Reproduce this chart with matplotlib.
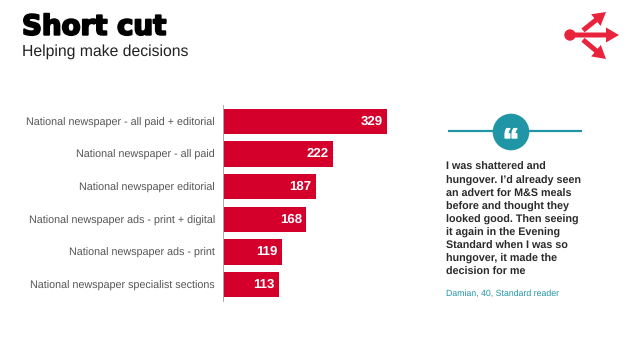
import matplotlib
matplotlib.use('Agg')
import matplotlib.pyplot as plt
import matplotlib.patheffects as pe
from matplotlib.patches import Circle, FancyArrow

W, H = 638, 359
RED = '#d4002b'
TEAL = '#1f95a5'

categories = [
    'National newspaper - all paid + editorial',
    'National newspaper - all paid',
    'National newspaper editorial',
    'National newspaper ads - print + digital',
    'National newspaper ads - print',
    'National newspaper specialist sections',
]
values = [329, 222, 187, 168, 119, 113]

quote_lines = [
    'I was shattered and',
    'hungover. I\u2019d already seen',
    'an advert for M&S meals',
    'before and thought they',
    'looked good. Then seeing',
    'it again in the Evening',
    'Standard when I was so',
    'hungover, it made the',
    'decision for me',
]
quote_source = 'Damian, 40, Standard reader'

plt.rcParams['font.family'] = ['Liberation Sans', 'DejaVu Sans']
plt.rcParams['text.hinting'] = 'no_hinting'

fig = plt.figure(figsize=(W / 100, H / 100), dpi=100)

# overlay in pixel coords for the slide furniture
bg = fig.add_axes([0, 0, 1, 1])
bg.set_xlim(0, W)
bg.set_ylim(H, 0)
bg.axis('off')

# title
bg.text(22, 27, 'Short cut', fontsize=19.9, fontweight='bold', family='DejaVu Sans', color='#000000', va='center',
        path_effects=[pe.withStroke(linewidth=1.4, foreground='#000000')])
bg.text(21.5, 52, 'Helping make decisions', fontsize=11.35, color='#222222', va='center')

# arrow icon
bg.add_patch(Circle((570, 35), 5.7, color='#e8243c', lw=0))
for dx, dy in [(49, 0), (36, -23), (36, 24)]:
    x0 = 570 if dy == 0 else 583
    y0 = 35 if dy == 0 else 35 + dy * 0.2
    bg.add_patch(FancyArrow(x0, y0, 570 + dx - x0, 35 + dy - y0, width=5, head_width=15,
                            head_length=13, length_includes_head=True, color='#e8243c', lw=0))

# quote panel
bg.plot([448, 582], [131, 131], color=TEAL, lw=1.6, solid_capstyle='butt')
bg.add_patch(Circle((511, 132), 18.3, color=TEAL, lw=0, zorder=3))
bg.text(511, 143, '\u201c', fontsize=24, fontweight='bold', color='white',
        ha='center', va='center', zorder=4,
        path_effects=[pe.withStroke(linewidth=1, foreground='white')])
for i, line in enumerate(quote_lines):
    bg.text(446, 167.5 + i * 13.05, line, fontsize=7.75, fontweight='bold', color='#2a2a2a', va='center')
bg.text(446, 294, quote_source, fontsize=6.35, color=TEAL, va='center')

# bar chart
ax = fig.add_axes([222.5 / W, 1 - 301 / H, 200 / W, 196 / H])
ax.patch.set_alpha(0)
pos = list(range(len(values)))
ax.barh(pos, values, height=0.785, color=RED)
ax.set_xlim(0, 200 / 0.4985)
ax.set_ylim(len(values) - 0.5, -0.5)
ax.set_yticks(pos)
ax.set_yticklabels(categories, fontsize=7.75, color='#555555')
ax.tick_params(axis='y', length=0, pad=5.5)
ax.xaxis.set_visible(False)
for side in ['top', 'right', 'bottom']:
    ax.spines[side].set_visible(False)
ax.spines['left'].set_color('#aaaaaa')
ax.spines['left'].set_linewidth(0.7)
for p, v in zip(pos, values):
    ax.annotate(str(v), (v, p), xytext=(-4, 0), textcoords='offset pixels', ha='right', va='center',
                fontsize=9.5, fontweight='bold', color='white')

fig.savefig('out.png', dpi=100)
